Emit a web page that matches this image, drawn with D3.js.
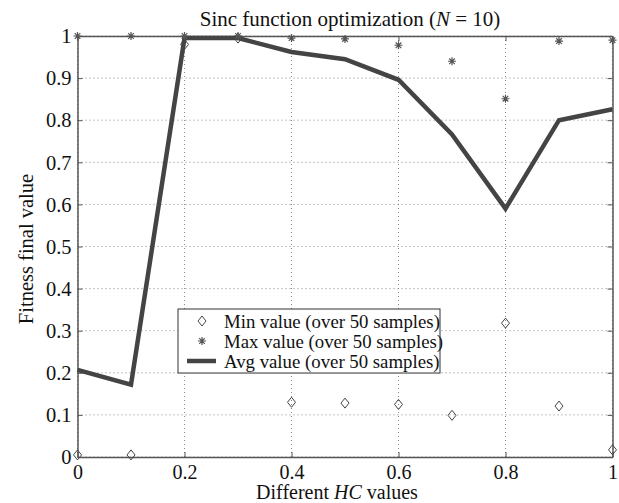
<!DOCTYPE html>
<html>
<head>
<meta charset="utf-8">
<script src="https://cdn.jsdelivr.net/npm/d3@7"></script>
<style>
body { margin: 0; background: #fff; }
.font { font-family: "Liberation Serif", "DejaVu Serif", serif; fill: #111; }
</style>
</head>
<body>
<svg id="chart" width="619" height="503"></svg>
<script>
const SVG_WIDTH = 619;
const SVG_HEIGHT = 503;

// HC values on the x axis
var hcValues = [0, 0.1, 0.2, 0.3, 0.4, 0.5, 0.6, 0.7, 0.8, 0.9, 1];
var minValues = [0.005, 0.005, 0.98, 0.995, 0.13, 0.128, 0.125, 0.099, 0.318, 0.121, 0.017];
var maxValues = [1.0, 1.0, 1.0, 1.0, 0.995, 0.993, 0.978, 0.94, 0.851, 0.988, 0.99];
var avgValues = [0.207, 0.172, 0.995, 0.995, 0.962, 0.945, 0.896, 0.766, 0.59, 0.80, 0.826];
var xTicks = [0, 0.2, 0.4, 0.6, 0.8, 1];
var yTicks = [0, 0.1, 0.2, 0.3, 0.4, 0.5, 0.6, 0.7, 0.8, 0.9, 1];
var legendLabels = ["Min value (over 50 samples)", "Max value (over 50 samples)", "Avg value (over 50 samples)"];

var svg = d3.select("#chart");

var plotLeft = 77.5, plotRight = 612.5, plotTop = 36, plotBottom = 457;
var xScale = d3.scaleLinear().domain([0, 1]).range([plotLeft, plotRight]);
var yScale = d3.scaleLinear().domain([0, 1]).range([plotBottom, plotTop]);

// grid
var grid = svg.append("g");
grid.selectAll("line.vgrid")
    .data(xTicks)
    .enter()
    .append("line")
    .attr("x1", function(d) { return xScale(d); })
    .attr("x2", function(d) { return xScale(d); })
    .attr("y1", plotTop)
    .attr("y2", plotBottom)
    .attr("stroke", "#888")
    .attr("stroke-width", 1)
    .attr("stroke-dasharray", "1,3");
grid.selectAll("line.hgrid")
    .data(yTicks)
    .enter()
    .append("line")
    .attr("x1", plotLeft)
    .attr("x2", plotRight)
    .attr("y1", function(d) { return yScale(d); })
    .attr("y2", function(d) { return yScale(d); })
    .attr("stroke", "#888")
    .attr("stroke-width", 1)
    .attr("stroke-dasharray", "1,3");

// axes (ticks point inward like a matlab box)
var fmt = function(d) { return d3.format("")(d); };
var xAxisGroup = svg.append("g")
    .attr("transform", "translate(0," + plotBottom + ")")
    .call(d3.axisBottom(xScale).tickValues(xTicks).tickSizeInner(-5).tickSizeOuter(0).tickFormat(fmt));
var yAxisGroup = svg.append("g")
    .attr("transform", "translate(" + plotLeft + ",0)")
    .call(d3.axisLeft(yScale).tickValues(yTicks).tickSizeInner(-5).tickSizeOuter(0).tickFormat(fmt));
var topAxisGroup = svg.append("g")
    .attr("transform", "translate(0," + plotTop + ")")
    .call(d3.axisTop(xScale).tickValues(xTicks).tickSizeInner(-5).tickSizeOuter(0).tickFormat(""));
var rightAxisGroup = svg.append("g")
    .attr("transform", "translate(" + plotRight + ",0)")
    .call(d3.axisRight(yScale).tickValues(yTicks).tickSizeInner(-5).tickSizeOuter(0).tickFormat(""));
[xAxisGroup, yAxisGroup, topAxisGroup, rightAxisGroup].forEach(function(g) {
    g.selectAll("path").attr("stroke", "#555").attr("stroke-width", 1.5);
    g.selectAll("line").attr("stroke", "#555");
    g.selectAll("text")
        .attr("class", "font")
        .style("font-size", "20.5px")
        .style("fill", "#111");
});
xAxisGroup.selectAll("text").attr("y", 21.5).attr("dy", 0).style("font-size", "20px");
yAxisGroup.selectAll("text").attr("x", -6).attr("dy", "0.33em");

// avg line
var line = d3.line()
    .x(function(d, i) { return xScale(hcValues[i]); })
    .y(function(d) { return yScale(d); });
svg.append("path")
    .datum(avgValues)
    .attr("d", line)
    .attr("fill", "none")
    .attr("stroke", "#444")
    .attr("stroke-width", 4.5)
    .attr("stroke-linejoin", "miter");

// markers
function diamond(g, x, y) {
    g.append("path")
        .attr("d", "M" + x + "," + (y - 5) + "L" + (x + 4) + "," + y + "L" + x + "," + (y + 5) + "L" + (x - 4) + "," + y + "Z")
        .attr("fill", "none")
        .attr("stroke", "#444")
        .attr("stroke-width", 1);
}
function asterisk(g, x, y) {
    var r = 4;
    var p = "M" + x + "," + (y - r) + "L" + x + "," + (y + r) +
        "M" + (x - r) + "," + y + "L" + (x + r) + "," + y +
        "M" + (x - r * 0.7) + "," + (y - r * 0.7) + "L" + (x + r * 0.7) + "," + (y + r * 0.7) +
        "M" + (x - r * 0.7) + "," + (y + r * 0.7) + "L" + (x + r * 0.7) + "," + (y - r * 0.7);
    g.append("path")
        .attr("d", p)
        .attr("stroke", "#555")
        .attr("stroke-width", 1.2);
}
var markers = svg.append("g");
for (var i = 0; i < hcValues.length; i++) {
    diamond(markers, xScale(hcValues[i]), yScale(minValues[i]));
    asterisk(markers, xScale(hcValues[i]), yScale(maxValues[i]));
}

// title and labels
var title = svg.append("text")
    .attr("class", "font")
    .attr("x", 350)
    .attr("y", 26)
    .attr("text-anchor", "middle")
    .style("font-size", "21px");
title.append("tspan").text("Sinc function optimization (");
title.append("tspan").style("font-style", "italic").text("N");
title.append("tspan").text(" = 10)");

var xLabel = svg.append("text")
    .attr("class", "font")
    .attr("x", 337)
    .attr("y", 499)
    .attr("text-anchor", "middle")
    .style("font-size", "20px");
xLabel.append("tspan").text("Different ");
xLabel.append("tspan").style("font-style", "italic").text("HC");
xLabel.append("tspan").text(" values");

svg.append("text")
    .attr("class", "font")
    .attr("transform", "translate(33," + 249 + ") rotate(-90)")
    .attr("text-anchor", "middle")
    .style("font-size", "20.5px")
    .text("Fitness final value");

// legend
var legend = svg.append("g");
legend.append("rect")
    .attr("x", 178).attr("y", 309)
    .attr("width", 262).attr("height", 64)
    .attr("fill", "#fff")
    .attr("stroke", "#333")
    .attr("stroke-width", 1);
var legendRowY = [321, 341, 361];
legend.selectAll("text.legend")
    .data(legendLabels)
    .enter()
    .append("text")
    .attr("class", "font")
    .attr("x", 224)
    .attr("y", function(d, i) { return legendRowY[i]; })
    .attr("dominant-baseline", "central")
    .style("font-size", "18.8px")
    .text(function(d) { return d; });
diamond(legend, 202, legendRowY[0]);
asterisk(legend, 202, legendRowY[1]);
legend.append("line")
    .attr("x1", 187).attr("x2", 216)
    .attr("y1", legendRowY[2]).attr("y2", legendRowY[2])
    .attr("stroke", "#444")
    .attr("stroke-width", 4.5);
</script>
</body>
</html>
